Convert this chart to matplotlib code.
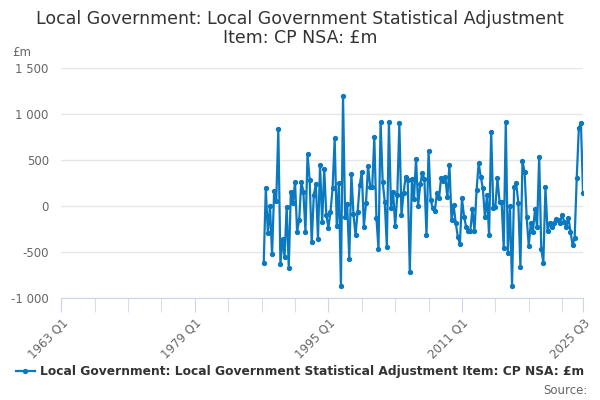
import matplotlib.pyplot as plt
from matplotlib.ticker import FuncFormatter, FixedLocator

# Quarterly values, £m (1987 Q2 to 2025 Q3)
values = [
    -616, 192, -297, 4, -522, 167, 58, 833, -627, -362, -551, -7, -670, 156,
    29, 264, -279, -152, 264, 156, -279, 565, 283, -395, 120, 239, -359, 446,
    -178, 399, -98, -236, -62, 192, 735, -217, 246, -870,
    1200, -116, 18, -576, 348, -87, -315, -62, 228, 373, -225, 29, 435, 210,
    210, 746, -127, -467, 917, 264, 47, -442, 913, -25, 156, -217, 120, 898,
    -98, 138, 319, 283, -721, 290, 72, 514, 4, 239,
    362, 290, -315, 601, 65, -25, -51, 145, 83, 304, 275, 312, 94, 449, -152,
    7, -181, -333, -413, 83, -116, -225, -272, -272, -36, -272, 174, 464, 319,
    192, -123, 120, -319, 808, -25, -7, 301, 47,
    47, -460, 917, -514, 0, -866, 210, 246, 36, -659, 489, 373, -123, -431,
    -188, -279, -36, -232, 536, -471, -616, 203, -268, -188, -225, -188, -145,
    -152, -181, -98, -170, -225, -127, -279, -424, -351, 308, 844, 906, 145,
]

# category axis runs 1963 Q1 .. 2025 Q3 (251 quarters)
n_quarters = 251
tick_labels = ['1963 Q1', '1979 Q1', '1995 Q1', '2011 Q1', '2025 Q3']
tick_pos = [0, 64, 128, 192, 250]

start = n_quarters - len(values)
x = list(range(start, n_quarters))

title = 'Local Government: Local Government Statistical Adjustment\nItem: CP NSA: £m'
series_name = 'Local Government: Local Government Statistical Adjustment Item: CP NSA: £m'

plt.rcParams['font.family'] = ['DejaVu Sans']

fig = plt.figure(figsize=(6, 4), dpi=100)
ax = fig.add_axes([61.3 / 600, 102 / 400, (583 - 61.3) / 600, 230 / 400])

line_color = '#0a79bf'
ax.plot(x, values, color=line_color, linewidth=1.6, marker='o', markersize=2.8,
        label=series_name)

ax.set_xlim(0, n_quarters - 1)
ax.set_ylim(-1000, 1500)
ax.set_yticks([-1000, -500, 0, 500, 1000, 1500])
ax.yaxis.set_major_formatter(FuncFormatter(lambda v, p: f'{int(v):,}'.replace(',', ' ')))
ax.grid(axis='y', color='#e6e6e6', linewidth=1)
ax.set_axisbelow(True)

ax.xaxis.set_major_locator(FixedLocator(tick_pos))
ax.set_xticklabels(tick_labels)
ax.xaxis.set_minor_locator(FixedLocator(list(range(0, 241, 16))))
ax.tick_params(axis='x', which='both', direction='out', length=10,
               color='#ccd6eb', labelcolor='#666666', labelsize=8.5, pad=3)
ax.tick_params(axis='y', length=0, labelcolor='#666666', labelsize=8.5, pad=9)
plt.setp(ax.get_xticklabels(), rotation=45, ha='right', va='top',
         rotation_mode='anchor')

for side in ['top', 'right', 'left']:
    ax.spines[side].set_visible(False)
ax.spines['bottom'].set_color('#ccd6eb')

fig.text(0.5, 0.975, title, ha='center', va='top', fontsize=12.5,
         color='#333333', linespacing=1.1)
fig.text(12 / 600, 1 - 52 / 400, '£m', ha='left', va='center', fontsize=8.5,
         color='#666666')

leg = fig.legend(loc='center', bbox_to_anchor=(0.5, 1 - 372 / 400), frameon=False,
                 handlelength=1.5, handletextpad=0.4,
                 prop={'weight': 'bold', 'size': 8.8})
for t in leg.get_texts():
    t.set_color('#333333')

fig.text(588 / 600, 1 - 390 / 400, 'Source:', ha='right', va='center',
         fontsize=8.5, color='#666666')

fig.savefig('out.png', dpi=100)
